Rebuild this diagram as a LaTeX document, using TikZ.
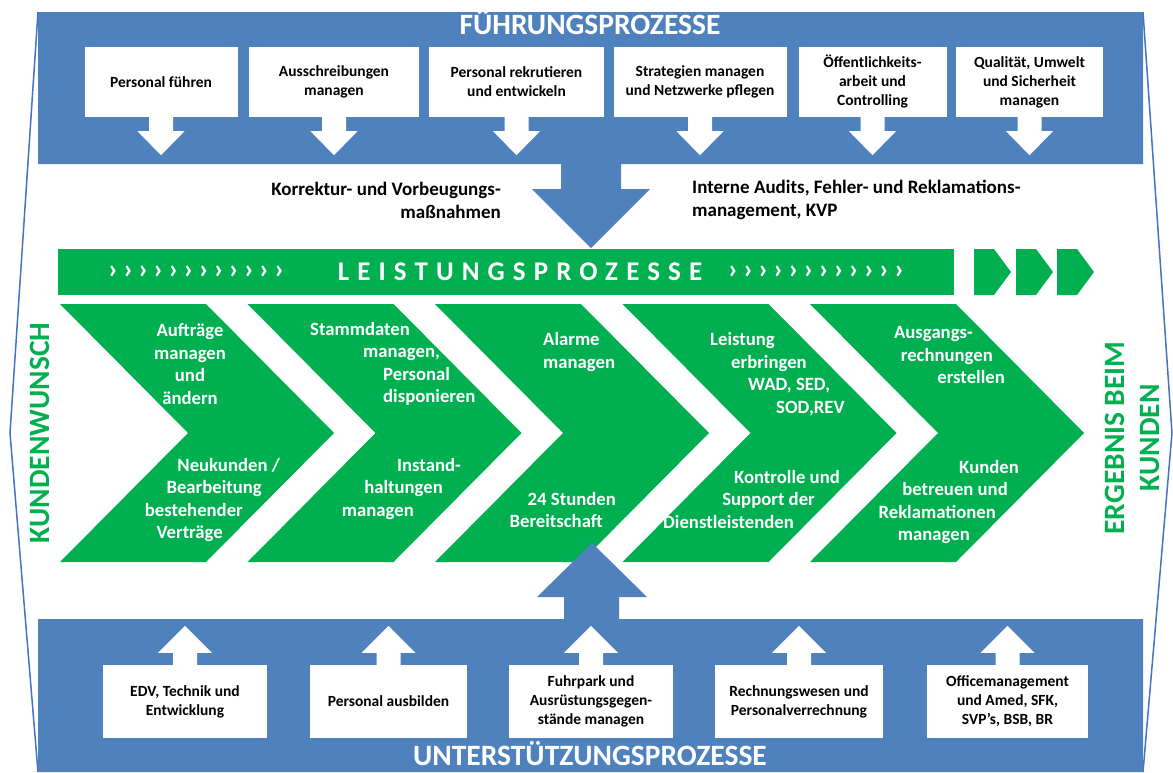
\documentclass[tikz,border=0pt]{standalone}
\usepackage{fontspec}
\setmainfont{Carlito}
\usetikzlibrary{calc}
\definecolor{procblue}{RGB}{79,129,189}
\definecolor{procgreen}{RGB}{0,176,80}
\definecolor{frameblue}{RGB}{68,114,196}
% fixed indent that survives line ends
\newcommand\ind[1]{\rule{#1pt}{0pt}}

\tikzset{
  pbox/.style={fill=white,inner sep=0pt,align=center,
    font=\fontsize{15.5}{19}\selectfont\bfseries},
  ptitle/.style={text=white,inner sep=0pt,anchor=base,
    font=\fontsize{29.5}{32}\selectfont\bfseries},
  ctext/.style={text=white,inner sep=0pt,
    font=\fontsize{18.7}{22.5}\selectfont\bfseries},
  mtext/.style={inner sep=0pt,font=\fontsize{19}{23}\selectfont\bfseries},
  stext/.style={text=procgreen,inner sep=0pt,rotate=90,align=center,
    font=\fontsize{29.5}{35}\selectfont\bfseries},
  marks/.style={text=white,inner sep=0pt,font=\fontsize{28}{28}\selectfont\bfseries},
}

\begin{document}
\begin{tikzpicture}[x=1pt,y=-1pt]
\useasboundingbox (0,0) rectangle (1173,772);

% outer frame
\draw[frameblue,line width=1.5pt] (38,12) -- (10,433) -- (38,772);
\draw[frameblue,line width=1.5pt] (1143,12) -- (1172,433) -- (1143,772);

% Fuehrungsprozesse
\fill[procblue] (38,12) -- (1143,12) -- (1143,164) -- (621,164) -- (621,189)
  -- (650,189) -- (591,248) -- (532,189) -- (561,189) -- (561,164) -- (38,164) -- cycle;
\node[ptitle] (fuehrung) at (590,34) {FÜHRUNGSPROZESSE};

\node[pbox,minimum width=153,minimum height=70] (f1) at (161,82) {Personal führen};
\node[pbox,minimum width=170,minimum height=70] (f2) at (334,82) {Ausschreibungen\\managen};
\node[pbox,minimum width=175,minimum height=70] (f3) at (516.5,82) {Personal rekrutieren\\und entwickeln};
\node[pbox,minimum width=173,minimum height=70] (f4) at (700,82) {Strategien managen\\und Netzwerke pflegen};
\node[pbox,minimum width=148,minimum height=70] (f5) at (872.5,82) {Öffentlichkeits-\\arbeit und\\Controlling};
\node[pbox,minimum width=147,minimum height=70] (f6) at (1029.5,82) {Qualität, Umwelt\\und Sicherheit\\managen};

\foreach \i in {1,...,6}
  \fill[white] (f\i.south) ++(-12,-1) -- ++(0,15) -- ++(-11.5,0) -- ++(23.5,24)
    -- ++(23.5,-24) -- ++(-11.5,0) -- ++(0,-15) -- cycle;

\node[mtext,align=right,anchor=east] (korrektur) at (501,200) {Korrektur- und Vorbeugungs-\\maßnahmen};
\node[mtext,align=left,anchor=west] (audits) at (692,200) {Interne Audits, Fehler- und Reklamations-\\management, KVP};

% Leistungsprozesse
\node[fill=procgreen,inner sep=0pt,minimum width=896,minimum height=46] (bar) at (506,272) {};
\foreach \k in {0,...,11} {
  \node[marks] (ml\k) at (113+15.1*\k,272) {›};
  \node[marks] (mr\k) at (733+15.1*\k,272) {›};
}
\node[ptitle,anchor=center,font=\fontsize{27}{30}\selectfont\bfseries] (leistung) at (520,272)
  {\addfontfeature{LetterSpace=30}LEISTUNGSPROZESSE};
\foreach \x in {974,1016,1057}
  \fill[procgreen] (\x,249) -- (\x+20,249) -- (\x+37,272) -- (\x+20,295) -- (\x,295) -- cycle;

\foreach \i in {0,...,4} {
  \pgfmathsetmacro\L{60+187.5*\i}
  \fill[procgreen] (\L,304) -- (\L+146,304) -- (\L+274,433) -- (\L+146,562)
    -- (\L,562) -- (\L+128,433) -- cycle;
}

\node[ctext,align=center] (auftraege) at (190,364) {Aufträge\\managen\\und\\ändern};
\node[ctext,align=right,anchor=east] (neukunden) at (280,500)
  {Neukunden /\\Bearbeitung\ind{18}\\bestehender\ind{37}\\Verträge\ind{57}};
\node[ctext,align=left,anchor=west] (stammdaten) at (310,364)
  {Stammdaten\\\ind{53}managen,\\\ind{73}Personal\\\ind{73}disponieren};
\node[ctext,align=right,anchor=east] (instand) at (461,489)
  {Instand-\\haltungen\ind{18}\\managen\ind{47}};
\node[ctext,align=left,anchor=west] (alarme) at (543,352) {Alarme\\managen};
\node[ctext,align=right,anchor=east] (stunden) at (616,510) {24 Stunden\\Bereitschaft\ind{13}};
\node[ctext,align=left,anchor=west] (leistg) at (710,374)
  {Leistung\\\ind{21}erbringen\\\ind{38}WAD, SED,\\\ind{66}SOD,REV};
\node[ctext,align=right,anchor=east] (kontrolle) at (840,499)
  {Kontrolle und\\Support der\ind{25}\\Dienstleistenden\ind{46}};
\node[ctext,align=right,anchor=east] (ausgang) at (1005,355)
  {Ausgangs-\ind{32}\\rechnungen\ind{12}\\erstellen};
\node[ctext,align=right,anchor=east] (kunden) at (1019,502)
  {Kunden\\betreuen und\ind{11}\\Reklamationen\ind{23}\\managen\ind{49}};

\node[stext] (wunsch) at (40,433) {KUNDENWUNSCH};
\node[stext] (ergebnis) at (1132,438) {ERGEBNIS BEIM\\KUNDEN};

% Unterstuetzungsprozesse
\fill[procblue] (38,772) -- (38,619) -- (564,619) -- (564,597) -- (537,597) -- (592,543)
  -- (647,597) -- (619,597) -- (619,619) -- (1143,619) -- (1143,772) -- cycle;
\node[ptitle] (unterstuetzung) at (590,765) {UNTERSTÜTZUNGSPROZESSE};

\node[pbox,minimum width=164,minimum height=73] (u1) at (185,701.5) {EDV, Technik und\\Entwicklung};
\node[pbox,minimum width=157,minimum height=73] (u2) at (388.5,701.5) {Personal ausbilden};
\node[pbox,minimum width=164,minimum height=73] (u3) at (591,701.5) {Fuhrpark und\\Ausrüstungsgegen-\\stände managen};
\node[pbox,minimum width=168,minimum height=73] (u4) at (799,701.5) {Rechnungswesen und\\Personalverrechnung};
\node[pbox,minimum width=161,minimum height=73] (u5) at (1007.5,701.5) {Officemanagement\\und Amed, SFK,\\SVP’s, BSB, BR};

\foreach \i in {1,...,5}
  \fill[white] (u\i.north) ++(-12,1) -- ++(0,-13) -- ++(-15,0) -- ++(27,-27)
    -- ++(27,27) -- ++(-15,0) -- ++(0,13) -- cycle;
\end{tikzpicture}
\end{document}
